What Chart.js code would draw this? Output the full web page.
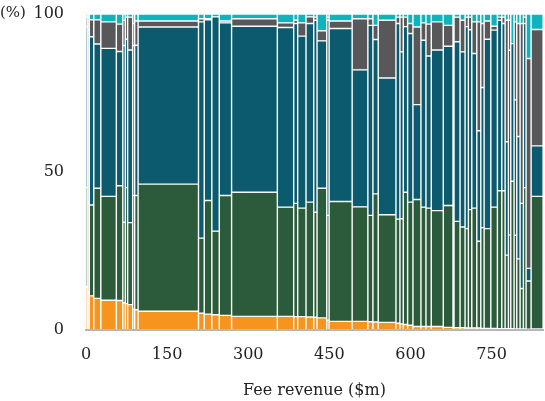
<!DOCTYPE html>
<html>
<head>
<meta charset="utf-8">
<script src="https://cdn.jsdelivr.net/npm/chart.js@4.4.0/dist/chart.umd.min.js"></script>
<style>
  html, body { margin: 0; padding: 0; background: #fff; }
  #wrap { width: 545px; height: 401px; }
</style>
</head>
<body>
<div id="wrap"><canvas id="mekkoChart"></canvas></div>
<script>
// one entry per firm: fee revenue ($m) sets the bar width, shares (%) stack to 100
const feeRevenue = [3.3, 2.8, 8.3, 13.0, 28.7, 12.0, 4.6, 4.3, 9.3, 3.7, 6.3, 111.7, 10.6, 14.1, 13.7, 22.8, 84.6, 30.2, 7.4, 15.4,
  14.3, 6.1, 18.0, 4.3, 42.6, 29.1, 9.3, 9.8, 32.8, 7.4, 6.1, 8.1, 9.8, 14.8, 9.3, 9.8, 22.2, 18.0, 1.9, 11.1,
  9.3, 6.1, 6.3, 9.3, 7.4, 6.1, 12.4, 12.2, 8.1, 6.1, 6.1, 4.4, 6.1, 5.0, 6.1, 6.1, 5.0, 9.3, 22.2];

const shareOrange = [13.6, 12, 10.7, 9.9, 9.3, 9.2, 8.5, 8.2, 7.9, 6.5, 6.3, 5.8, 5.2, 4.9, 4.7, 4.5, 4.2, 4.2, 4.1, 4.1,
  4.0, 3.9, 3.7, 3.0, 2.6, 2.6, 2.5, 2.4, 2.3, 2.0, 1.8, 1.6, 1.4, 1.0, 1.0, 1.0, 1.0, 0.7, 0.7, 0.6,
  0.6, 0.5, 0.5, 0.5, 0.5, 0.4, 0.4, 0.4, 0.3, 0.3, 0.3, 0.3, 0.3, 0.2, 0.2, 0.2, 0.2, 0.1, 0.2];

const shareGreen = [31.4, 28, 28.8, 34.9, 32.9, 36.4, 25.5, 36.8, 26, 36, 36.2, 40.3, 23.8, 36, 26.5, 38, 39.3, 34.6, 35.9, 34.4,
  36.4, 33.3, 41.1, 33.2, 38, 36.3, 33.7, 40.6, 34.1, 33, 33.3, 41.9, 39, 40.2, 37.8, 37.5, 36.7, 38.6, 35.3, 33.7,
  31.9, 31.5, 37.5, 38, 27.5, 31.9, 31.6, 38.4, 43.7, 43.7, 23.3, 29.7, 46.7, 29.7, 22.2, 12.8, 44.8, 15.3, 42];

const shareBlue = [51, 55, 53.3, 45.7, 46.9, 42.5, 56, 47, 54.7, 47.5, 47.6, 49.8, 68.5, 57.3, 67.9, 54.7, 52.6, 56.9, 57, 54.5,
  56.6, 60.8, 46.7, 61.8, 54.8, 43.4, 60.2, 48.9, 43.3, 62, 52.9, 52.5, 53.4, 30.1, 52.9, 48.2, 50.9, 50.5, 59, 56.9,
  55.5, 64, 57, 49, 35, 44.4, 60, 56.1, 54, 53, 35.9, 58.5, 43.6, 42.9, 38.8, 27, 52, 4, 16];

const shareGray = [3, 4, 5.4, 7.7, 8.4, 8.7, 8, 7, 10.4, 7, 7.7, 1.9, 1, 0.3, 0, 0.6, 2.4, 1.5, 1, 4.2,
  2.1, 1, 3.2, 1, 2.4, 16.2, 2.1, 4.5, 18.3, 2, 11, 3, 3.2, 24.6, 5.5, 10.1, 8.9, 6.6, 4, 7.8,
  10, 3, 4, 10, 34.5, 20.3, 5.8, 1.2, 1, 2, 38.5, 9.5, 0, 24.7, 35.8, 57, 2, 66.5, 36.9];

const shareCyan = [1, 1, 1.8, 1.8, 2.5, 3.2, 2, 1, 1, 3, 2.2, 2.2, 1.5, 1.5, 0.9, 2.2, 1.5, 2.8, 2, 2.8,
  0.9, 1, 5.3, 1, 2.2, 1.5, 1.5, 3.6, 2, 1, 1, 1, 3, 4.1, 2.8, 3.2, 2.5, 3.6, 1, 1,
  2, 1, 1, 2.5, 2.5, 3, 2.2, 3.9, 1, 1, 2, 2, 9.4, 2.5, 3, 3, 1, 14.1, 4.9];

const xTicks = [0, 150, 300, 450, 600, 750];

// left edge of each bar along the revenue axis
const barStart = [];
let running = 0;
feeRevenue.forEach(v => { barStart.push(running); running += v; });
const revenueTotal = 845;

const serif = '"DejaVu Serif", "Liberation Serif", serif';

function makeSet(label, shares, color) {
    return {
        label: label,
        data: shares.map((v, i) => ({ x: barStart[i] + feeRevenue[i] / 2, y: v })),
        backgroundColor: color,
        borderColor: 'rgba(255, 255, 255, 0.8)',
        borderWidth: 0.7,
        borderSkipped: false,
        inflateAmount: 0
    };
}

// stretch each bar so it spans its own revenue on the x scale
const variableWidth = {
    id: 'variableWidth',
    beforeDatasetsDraw(chart) {
        const xScale = chart.scales.x;
        chart.data.datasets.forEach((ds, i) => {
            chart.getDatasetMeta(i).data.forEach((bar, j) => {
                const left = xScale.getPixelForValue(barStart[j]);
                const right = xScale.getPixelForValue(barStart[j] + feeRevenue[j]);
                bar.x = (left + right) / 2;
                bar.width = right - left;
            });
        });
    }
};

const unitLabel = {
    id: 'unitLabel',
    afterDraw(chart) {
        const ctx = chart.ctx;
        ctx.save();
        ctx.font = '15px ' + serif;
        ctx.fillStyle = '#222';
        ctx.textBaseline = 'middle';
        ctx.textAlign = 'left';
        ctx.fillText('(%)', 0, 13);
        ctx.restore();
    }
};

const ctx = document.getElementById('mekkoChart').getContext('2d');
new Chart(ctx, {
    type: 'bar',
    data: {
        datasets: [
            makeSet('Orange', shareOrange, '#f7941e'),
            makeSet('Green', shareGreen, '#2b5b3b'),
            makeSet('Blue', shareBlue, '#0b5a6d'),
            makeSet('Gray', shareGray, '#58585a'),
            makeSet('Cyan', shareCyan, '#0db4bb')
        ]
    },
    options: {
        responsive: true,
        maintainAspectRatio: false,
        animation: false,
        layout: { padding: { top: 14, right: 2, left: 0, bottom: 1 } },
        plugins: {
            legend: { display: false },
            tooltip: { enabled: false }
        },
        scales: {
            x: {
                type: 'linear',
                min: 0,
                max: revenueTotal,
                offset: false,
                stacked: true,
                grid: { display: false },
                border: { display: true, color: '#b4b4b4', width: 2 },
                afterBuildTicks: scale => { scale.ticks = xTicks.map(v => ({ value: v })); },
                ticks: {
                    padding: 8,
                    color: '#222',
                    font: { family: serif, size: 16 }
                },
                title: {
                    display: true,
                    text: 'Fee revenue ($m)',
                    color: '#222',
                    font: { family: serif, size: 16 },
                    padding: { top: 8, bottom: 0 }
                }
            },
            y: {
                stacked: true,
                min: 0,
                max: 100,
                grid: { display: false },
                border: { display: false },
                afterFit: scale => {
                    scale.width = 86;
                    scale.paddingTop = 0;
                },
                ticks: {
                    stepSize: 50,
                    padding: 14,
                    color: '#222',
                    font: { family: serif, size: 16 }
                }
            }
        }
    },
    plugins: [variableWidth, unitLabel]
});
</script>
</body>
</html>
